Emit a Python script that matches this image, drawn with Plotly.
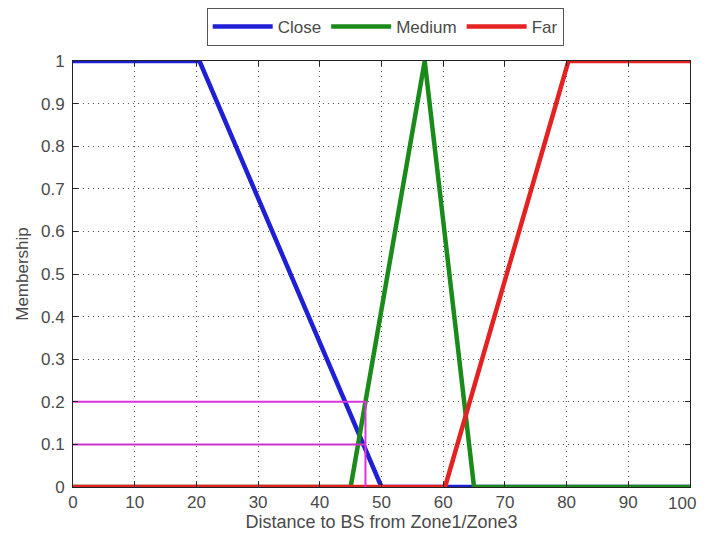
import plotly.graph_objects as go

# membership function breakpoints
close_x = [0, 20.5, 50, 100]
close_y = [1, 1, 0, 0]
medium_x = [0, 45, 57, 65, 100]
medium_y = [0, 0, 1, 0, 0]
far_x = [0, 60.3, 80.3, 100]
far_y = [0, 0, 1, 1]

# highlighted membership levels at the crossing distance
cut_x = 47.4
cut_levels = [0.2, 0.1]

x_ticks = [0, 10, 20, 30, 40, 50, 60, 70, 80, 90, 100]
x_ticktext = ["0", "10", "20", "30", "40", "50", "60", "70", "80", "90", "100"]
y_ticks = [0, 0.1, 0.2, 0.3, 0.4, 0.5, 0.6, 0.7, 0.8, 0.9, 1]
y_ticktext = ["0", "0.1", "0.2", "0.3", "0.4", "0.5", "0.6", "0.7", "0.8", "0.9", "1"]

fig = go.Figure()
fig.add_trace(go.Scatter(x=close_x, y=close_y, mode="lines", name="Close",
                         line=dict(color="#1f1fd6", width=4.5)))
fig.add_trace(go.Scatter(x=medium_x, y=medium_y, mode="lines", name="Medium",
                         line=dict(color="#1a8a1a", width=4.5)))
fig.add_trace(go.Scatter(x=far_x, y=far_y, mode="lines", name="Far",
                         line=dict(color="#e52222", width=4.5)))

# magenta guide lines
fig.add_trace(go.Scatter(x=[0, cut_x, cut_x], y=[cut_levels[0], cut_levels[0], 0],
                         mode="lines", showlegend=False,
                         line=dict(color="#dd33dd", width=2)))
fig.add_trace(go.Scatter(x=[0, cut_x], y=[cut_levels[1], cut_levels[1]],
                         mode="lines", showlegend=False,
                         line=dict(color="#cc33cc", width=2)))

fam = "Liberation Sans, Arial, sans-serif"
tick_font = dict(family=fam, size=17, color="#4a4a4a")
title_font = dict(family=fam, size=18, color="#4a4a4a")

# last x tick label drawn as an annotation so it stays inside the page edge
shown_text = x_ticktext[:-1] + [""]
fig.add_annotation(x=x_ticks[-1], y=0, xref="x", yref="paper",
                   text=x_ticktext[-1], showarrow=False,
                   xanchor="right", yanchor="top", xshift=8, yshift=-5,
                   font=tick_font)

fig.update_layout(
    width=698, height=526,
    margin=dict(l=65, r=16, t=53, b=47, autoexpand=False),
    paper_bgcolor="white", plot_bgcolor="white",
    font=tick_font,
    showlegend=True,
    legend=dict(orientation="h", x=0.506, xanchor="center", y=1.1244, yanchor="top",
                bordercolor="#555", borderwidth=1, bgcolor="white",
                font=dict(family=fam, size=17, color="#4a4a4a"),
                itemwidth=60, tracegroupgap=0),
    xaxis=dict(range=[0, 100], tickvals=x_ticks, ticktext=shown_text,
               ticks="inside", ticklen=5,
               tickcolor="#222", showline=True, linecolor="#222", linewidth=1, mirror="ticks",
               showgrid=True, gridcolor="#555", griddash="1px,4px", gridwidth=1,
               zeroline=False, tickfont=tick_font, automargin=False,
               title=dict(text="Distance to BS from Zone1/Zone3", font=title_font, standoff=3)),
    yaxis=dict(range=[0, 1], tickvals=y_ticks, ticktext=y_ticktext, ticks="inside", ticklen=5,
               tickcolor="#222", showline=True, linecolor="#222", linewidth=1, mirror="ticks",
               showgrid=True, gridcolor="#555", griddash="1px,4px", gridwidth=1,
               zeroline=False, tickfont=tick_font, automargin=False, ticklabelstandoff=4,
               title=dict(text="Membership", font=tick_font, standoff=8)),
)

fig.write_html("out.html")
